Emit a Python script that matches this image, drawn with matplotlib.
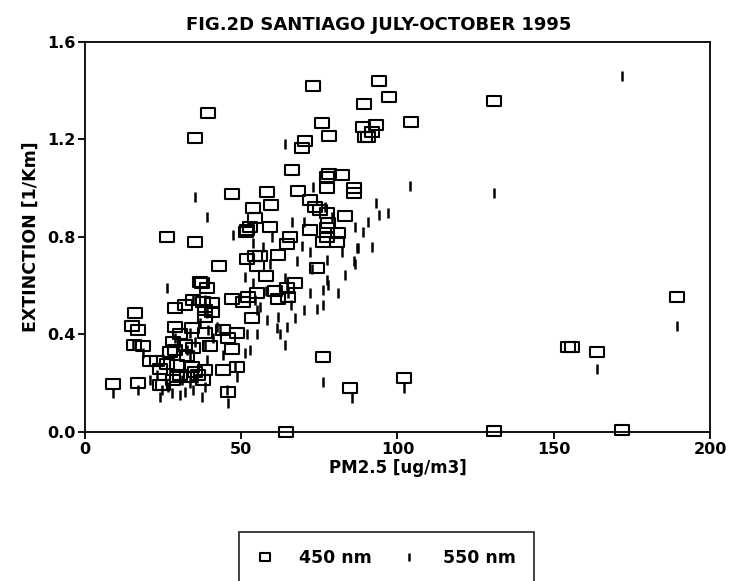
#!/usr/bin/env python3
# -*- coding: utf-8 -*-
"""
Fig. 2D: extincion vs PM2.5, Santiago julio-octubre 1995 (450 y 550 nm).
"""

import matplotlib
matplotlib.use('Agg')
import matplotlib.pyplot as plt
from matplotlib.path import Path

TITLE = 'FIG.2D SANTIAGO JULY-OCTOBER 1995'
XLABEL = 'PM2.5 [ug/m3]'
YLABEL = 'EXTINCTION [1/Km]'
XTICKS = [0, 50, 100, 150, 200]
YTICKS = [0.0, 0.4, 0.8, 1.2, 1.6]
LABELS = ['450 nm', '550 nm']

# 450 nm (cuadrados)
x450 = [73, 94, 97.4, 89.3, 131, 104.3, 93, 89, 92, 90.6, 89.6, 189.4, 154.6, 156,
        164, 102, 84.8, 131, 172, 64.3,
        35.2, 39.5, 46.9, 58.1, 59.4, 53.9, 54.4, 66.1,
        76, 78.2, 70.4, 69.3, 78.2, 82.1, 77.3, 77.3, 86.2, 86.2, 68.3, 72, 73.6,
        75.2, 83.2, 77.3, 77.9, 59.2, 52.8,
        26.1, 35.2, 43, 51.4, 52, 64.5, 65.6, 51.7, 54.4, 56, 55, 58, 61.9, 60.8,
        61.9, 64.5, 65, 67.2, 55, 52.3, 50.7, 46.9, 53.3, 74.1, 72, 77.3, 81, 77.3,
        76.3, 80.5, 76.3,
        9.1, 17.1, 16, 14.9, 17.1, 15.7, 18.5, 20.8, 22.9, 24, 26.1, 27.2, 28.8,
        28.3, 28.8, 29.3, 30.4, 28.8, 32, 34.7, 34.1, 34.7, 32, 34.1, 35.2, 36.8,
        37.3, 38.9, 37.9, 40.5, 38.4, 40.5, 38.4, 38.4, 40, 38.4, 37.9, 44.3, 48.5,
        45.9, 46.9, 44.3, 48.5, 45.9, 24, 29.3, 32.5, 36.3, 30.4, 32.5, 28.3, 25]
y450 = [1.42, 1.44, 1.375, 1.345, 1.36, 1.27, 1.26, 1.25, 1.23, 1.21, 1.21, 0.554,
        0.35, 0.35, 0.33, 0.22, 0.18, 0.005, 0.01, 0.0,
        1.205, 1.31, 0.976, 0.986, 0.93, 0.918, 0.877, 1.075,
        1.266, 1.214, 1.194, 1.164, 1.06, 1.054, 1.047, 1.0, 1.0, 0.98, 0.99, 0.95,
        0.925, 0.91, 0.886, 0.897, 0.856, 0.84, 0.84,
        0.80, 0.78, 0.68, 0.82, 0.83, 0.77, 0.80, 0.71, 0.72, 0.72, 0.68, 0.64,
        0.726, 0.58, 0.545, 0.59, 0.555, 0.61, 0.57, 0.555, 0.535, 0.545, 0.466,
        0.674, 0.83, 0.835, 0.815, 0.80, 0.78, 0.78, 0.306,
        0.197, 0.20, 0.487, 0.435, 0.42, 0.357, 0.353, 0.292, 0.292, 0.193, 0.279,
        0.33, 0.432, 0.37, 0.336, 0.275, 0.234, 0.51, 0.52, 0.54, 0.425, 0.343,
        0.357, 0.268, 0.247, 0.617, 0.61, 0.59, 0.535, 0.53, 0.50, 0.494, 0.47,
        0.405, 0.353, 0.254, 0.213, 0.418, 0.405, 0.384, 0.34, 0.254, 0.265, 0.165,
        0.26, 0.227, 0.227, 0.234, 0.40, 0.31, 0.213, 0.193]

# 550 nm (rayitas)
x550 = [172, 104, 131, 189.4, 164, 102, 85.5, 93, 94, 97, 90.6, 86.4, 89, 87.4, 92, 86,
        47.5, 53.9, 59.2, 51.2, 53.9, 64, 69.3, 72, 77.3, 82.1, 86.9, 86.4, 83.2,
        77.3, 77.9, 81, 76.3, 72, 76.3, 74.1, 67.2, 64.5, 61.9, 58.1, 61.3, 62.4,
        64, 54.9, 51.7, 52.8, 51.2, 56, 54.9, 54.4, 64.5, 65,
        26.1, 15.5, 9.1, 17.1, 20.8, 22.9, 24, 24.5, 26.7, 27.7, 30.4, 30.9, 32,
        33.6, 34.7, 35.7, 37.3, 38.4, 38.9, 33.6, 32.5, 29.9, 28.8, 33.6, 35.2,
        38.4, 45.3, 45.9, 44.3, 48, 48.5, 41.1, 42.1, 38.9, 38.4, 34.7, 36.8, 39.5,
        43.2, 18.7,
        64, 35.2, 39.1, 66.1, 73, 78.9, 76.8, 76.3, 70, 60, 57, 68, 72.5, 58, 66, 70]
y550 = [1.46, 1.01, 0.98, 0.435, 0.26, 0.18, 0.14, 0.94, 0.89, 0.90, 0.86, 0.84, 0.82,
        0.755, 0.76, 0.70,
        0.81, 0.774, 0.69, 0.637, 0.61, 0.63, 0.763, 0.74, 0.706, 0.74, 0.754, 0.69,
        0.644, 0.624, 0.603, 0.572, 0.583, 0.57, 0.52, 0.503, 0.466, 0.432, 0.473,
        0.46, 0.425, 0.40, 0.357, 0.40, 0.40, 0.336, 0.325, 0.514, 0.50, 0.54,
        0.596, 0.57,
        0.59, 0.357, 0.159, 0.172, 0.213, 0.234, 0.145, 0.172, 0.186, 0.159, 0.152,
        0.213, 0.165, 0.20, 0.172, 0.22, 0.145, 0.186, 0.295, 0.309, 0.336, 0.35,
        0.384, 0.405, 0.37, 0.357, 0.172, 0.118, 0.316, 0.268, 0.227, 0.384, 0.432,
        0.487, 0.54, 0.54, 0.446, 0.418, 0.418, 0.323,
        1.18, 0.965, 0.883, 0.863, 1.006, 0.883, 0.925, 0.206, 0.86, 0.80, 0.76,
        0.70, 0.67, 0.58, 0.52, 0.50]

FONT = ['DejaVu Sans']

# rectangulo algo mas ancho que alto, como en el original
RECT = Path([(-1.4, -1), (1.4, -1), (1.4, 1), (-1.4, 1), (-1.4, -1)],
            [Path.MOVETO, Path.LINETO, Path.LINETO, Path.LINETO, Path.CLOSEPOLY])


def main():
    plt.rcParams['font.family'] = FONT
    plt.rcParams['font.weight'] = 'bold'

    fig = plt.figure(figsize=(7.3, 5.81), dpi=100)
    ax = fig.add_axes([0.1164, 0.2565, 0.8562, 0.6712])

    ax.plot(x550, y550, linestyle='none', marker='|', markersize=7,
            markeredgewidth=1.8, color='black', label=LABELS[1], clip_on=False)
    ax.plot(x450, y450, linestyle='none', marker=RECT, markersize=9.5,
            markerfacecolor='none', markeredgewidth=1.5, color='black',
            label=LABELS[0], clip_on=False)

    ax.set_xlim(0, 200)
    ax.set_ylim(0, 1.6)
    ax.set_xticks(XTICKS)
    ax.set_yticks(YTICKS)
    ax.set_yticklabels([f'{v:.1f}' for v in YTICKS])
    ax.tick_params(direction='out', length=5, width=1.3, labelsize=11.5,
                   top=False, right=False, pad=2)
    for s in ax.spines.values():
        s.set_linewidth(1.3)

    # el titulo del original esta algo corrido a la izquierda
    ax.set_title(TITLE, fontsize=13, fontweight='bold', pad=9, x=0.47)
    ax.set_xlabel(XLABEL, fontsize=12, fontweight='bold', labelpad=2)
    ax.set_ylabel(YLABEL, fontsize=12.5, fontweight='bold', labelpad=5)

    handles, labels = ax.get_legend_handles_labels()
    leg = fig.legend(handles[::-1], labels[::-1], loc='upper center',
                     bbox_to_anchor=(0.529, 1 - 532 / 581), ncol=2,
                     fontsize=12.5, frameon=True, fancybox=False, borderpad=1.0,
                     handlelength=1.0, columnspacing=1.6, handletextpad=1.5,
                     borderaxespad=0, markerscale=0.8)
    leg.get_frame().set_edgecolor('black')
    leg.get_frame().set_linewidth(1.3)
    for t in leg.get_texts():
        t.set_fontweight('bold')

    fig.savefig('out.png', dpi=100)


if __name__ == '__main__':
    main()
